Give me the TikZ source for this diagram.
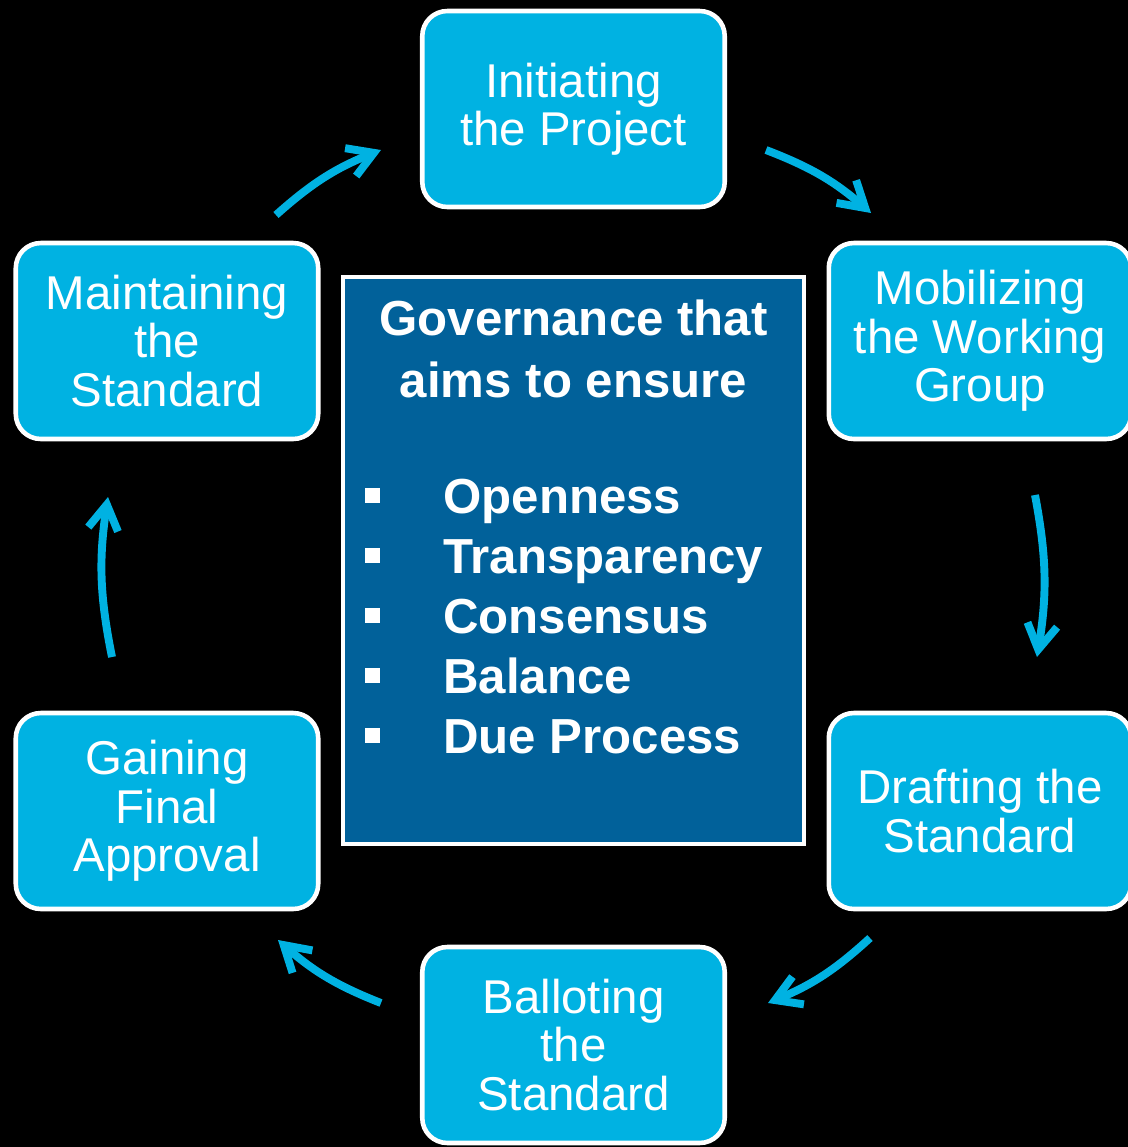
\documentclass[tikz,border=0pt]{standalone}
\usepackage{fontspec}
\setmainfont{Liberation Sans}
\usetikzlibrary{arrows.meta,positioning}
\definecolor{stepcyan}{RGB}{0,178,226}
\definecolor{govblue}{RGB}{1,97,154}

\begin{document}
\begin{tikzpicture}[x=0.02cm,y=-0.02cm,
    stage/.style={draw=white, line width=2.6pt, fill=stepcyan, rounded corners=0.5cm,
        minimum width=6.05cm, minimum height=3.92cm, align=center, text=white,
        font=\fontsize{27}{27.5}\selectfont, inner sep=0pt},
    govbox/.style={draw=white, line width=2.2pt, fill=govblue,
        minimum width=9.22cm, minimum height=11.34cm},
    govtext/.style={text=white, font=\bfseries\fontsize{28}{34}\selectfont, inner sep=0pt},
    cyclearrow/.style={draw=stepcyan, line width=4.5pt,
        -{Straight Barb[length=0.5cm,width=0.6cm]}, bend left=10}]

    % Background
    \fill[black] (0,0) rectangle (1128,1147);
    \useasboundingbox (0,0) rectangle (1128,1147);

    % Stages
    \node[stage] (init) at (573.5,109) {Initiating\\the Project};
    \node[stage] (mobil) at (980,341) {Mobilizing\\the Working\\Group};
    \node[stage] (draft) at (980,811) {Drafting the\\Standard};
    \node[stage] (ballot) at (573.5,1045) {Balloting\\the\\Standard};
    \node[stage] (final) at (167,811) {Gaining\\Final\\Approval};
    \node[stage] (maint) at (167,341) {Maintaining\\the\\Standard};

    % Governance box
    \node[govbox] (gov) at (573.5,560.5) {};
    \node[govtext, anchor=base] (govA) at (573.5,335) {Governance that};
    \node[govtext, anchor=base] (govB) at (573.5,397) {aims to ensure};
    \foreach \txt [count=\i] in {Openness, Transparency, Consensus, Balance, Due Process} {
        \fill[white] (365,428+60*\i) rectangle (380,443+60*\i); % bullet
        \node[govtext, anchor=base west] (item\i) at (443,453+60*\i) {\txt};
    }

    % Arrow ends
    \coordinate (maintOut) at (276,215);
    \coordinate (initIn) at (381,150);
    \coordinate (initOut) at (766,150);
    \coordinate (mobilIn) at (871,213);
    \coordinate (mobilOut) at (1035,495);
    \coordinate (draftIn) at (1037,657);
    \coordinate (draftOut) at (870,938);
    \coordinate (ballotIn) at (768,1003);
    \coordinate (ballotOut) at (381,1003);
    \coordinate (finalIn) at (278,940);
    \coordinate (finalOut) at (112,657);
    \coordinate (maintIn) at (108,497);

    % Cycle
    \draw[cyclearrow] (maintOut) to (initIn);
    \draw[cyclearrow] (initOut) to (mobilIn);
    \draw[cyclearrow] (mobilOut) to (draftIn);
    \draw[cyclearrow] (draftOut) to (ballotIn);
    \draw[cyclearrow] (ballotOut) to (finalIn);
    \draw[cyclearrow] (finalOut) to (maintIn);

\end{tikzpicture}
\end{document}
